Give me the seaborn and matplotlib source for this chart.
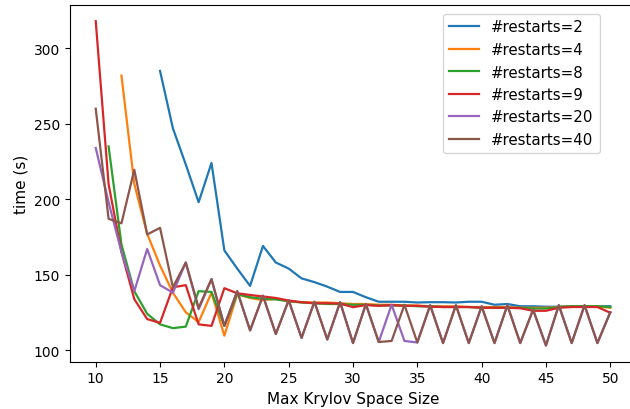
import matplotlib
matplotlib.use("Agg")
import matplotlib.pyplot as plt
import seaborn as sns
import pandas as pd
import numpy as np

labels = ["#restarts=2", "#restarts=4", "#restarts=8", "#restarts=9", "#restarts=20", "#restarts=40"]
x_starts = [15, 12, 11, 10, 10, 10]

r2 = [285, 247, 223, 198, 224, 166, 154, 142.5, 169, 158, 154, 147.5, 145, 142, 138.5, 138.5,
      135, 132, 132, 132, 131.5, 131.7, 131.7, 131.5, 132, 132, 130, 130.5, 129, 129, 128.7,
      128.7, 129, 129, 129, 129]
r4 = [282, 210, 177, 156, 138, 125, 118.5, 138, 109.5, 137, 134.5, 133, 134, 132, 131.7, 131.5,
      131.5, 131, 130.5, 130.5, 130, 130, 129.5, 129.5, 129, 129, 129, 128.5, 128.5, 128.5,
      128.5, 128, 128, 128, 128.5, 129, 129, 129, 128]
r8 = [235, 170, 139, 124, 117, 114.5, 115.5, 139, 138.5, 116, 137, 135, 134, 133.5, 132.5, 131.5,
      131, 130.5, 130.5, 130, 130, 129.5, 129.5, 129.5, 129, 129, 128.5, 128.5, 128.5, 128, 128,
      128, 128, 127.5, 127.5, 128.5, 129, 129, 129, 128.5]
r9 = [318, 210, 165, 133.7, 120.5, 118, 141.6, 143, 117, 116, 141, 137.6, 136.5, 135.5, 134.5,
      132.8, 131.7, 131, 131, 130.8, 128.4, 129.8, 129.3, 129.8, 129.3, 129.3, 128.7, 128.5,
      128.5, 128.5, 128, 128, 128, 127.7, 126, 126, 128, 128.5, 128.5, 128.5, 124.7]
r20 = [234, 198, 165, 139, 167, 143, 138, 158, 127, 147, 116, 139, 113, 136, 110.6, 133, 108,
       132, 107, 131.7, 104.6, 130.4, 105.3, 130, 106, 105, 129.7, 104.6, 129.7, 104.6, 129,
       104.6, 129.7, 104.6, 126.7, 103, 129.7, 104.6, 129.7, 104.6, 125]
r40 = [260, 187, 184, 219.5, 176.6, 181, 141.6, 158, 128, 147, 116, 139, 113, 136, 110.6, 133,
       108, 132, 107, 131.7, 104.6, 130.4, 105.3, 106, 130, 105, 129.7, 104.6, 129.7, 104.6,
       129, 104.6, 129.7, 104.6, 126.7, 103, 129.7, 104.6, 129.7, 104.6, 125]

series = [r2, r4, r8, r9, r20, r40]
frames = []
for lab, xs, ys in zip(labels, x_starts, series):
    frames.append(pd.DataFrame({"size": np.arange(xs, xs + len(ys)), "time": ys, "run": lab}))
df = pd.concat(frames, ignore_index=True)

fig = plt.figure(figsize=(6.3, 4.1), dpi=100)
ax = fig.add_axes([70 / 630, 1 - 362.7 / 410, (636 - 70) / 630, (362.7 - 6) / 410])
sns.lineplot(data=df, x="size", y="time", hue="run", hue_order=labels,
             palette=sns.color_palette("tab10", 6), linewidth=1.6, ax=ax)
ax.set_xlabel("Max Krylov Space Size", fontsize=11)
ax.set_ylabel("time (s)", fontsize=11)
ax.set_xlim(8, 52)
ax.set_ylim(92.25, 328.75)
ax.set_xticks([10, 15, 20, 25, 30, 35, 40, 45, 50])
ax.set_yticks([100, 150, 200, 250, 300])
ax.tick_params(labelsize=10)
leg = ax.legend(loc="upper right", bbox_to_anchor=(607 / 630, 1 - 7 / 410),
                bbox_transform=fig.transFigure, title=None, fontsize=10.8)
fig.savefig("out.png", dpi=100)
